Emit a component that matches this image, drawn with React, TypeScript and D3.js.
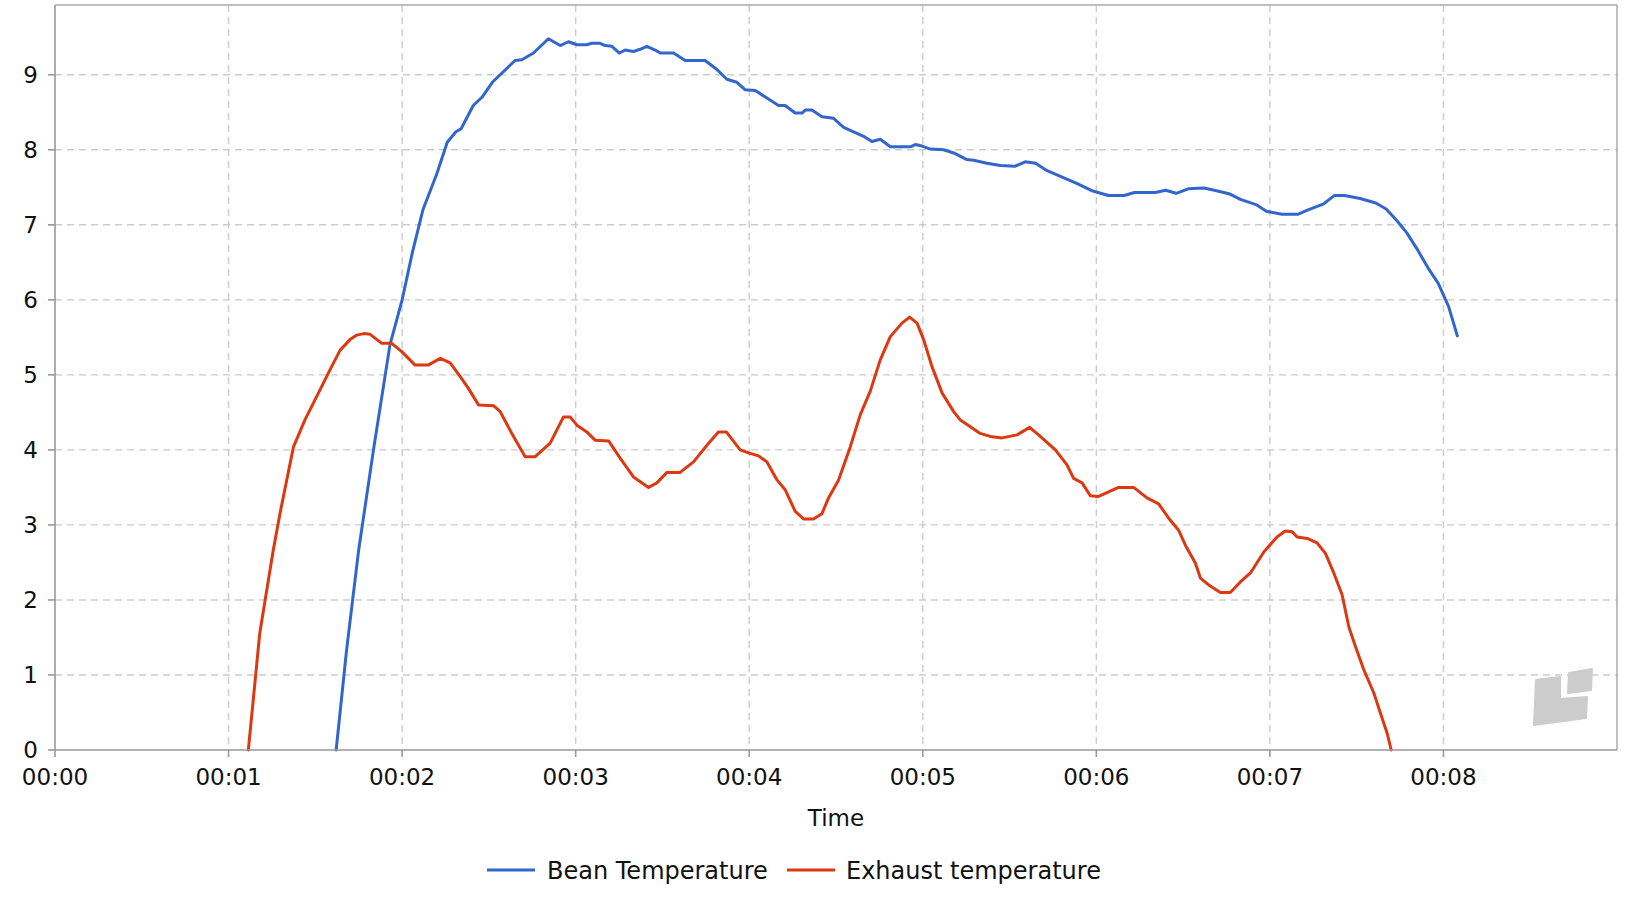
import * as d3 from 'd3';

// time in minutes, value
const beanTemperature: [number, number][] = [
  [1.62, 0], [1.68, 1.33], [1.75, 2.67], [1.835, 4.0], [1.93, 5.4], [2.0, 6.0], [2.06, 6.64],
  [2.12, 7.2], [2.2, 7.68], [2.26, 8.1], [2.31, 8.24], [2.34, 8.28], [2.41, 8.59], [2.46, 8.7],
  [2.52, 8.9], [2.565, 9.0], [2.651, 9.19], [2.69, 9.2], [2.757, 9.29], [2.843, 9.48], [2.911, 9.39],
  [2.958, 9.44], [3.007, 9.4], [3.064, 9.4], [3.093, 9.42], [3.141, 9.42], [3.17, 9.39], [3.209, 9.38],
  [3.252, 9.29], [3.285, 9.33], [3.333, 9.31], [3.372, 9.34], [3.41, 9.38], [3.458, 9.33], [3.487, 9.29],
  [3.564, 9.29], [3.631, 9.19], [3.746, 9.19], [3.814, 9.07], [3.871, 8.94], [3.929, 8.9], [3.977, 8.8],
  [4.035, 8.79], [4.102, 8.69], [4.169, 8.59], [4.207, 8.59], [4.265, 8.49], [4.304, 8.49], [4.323, 8.53],
  [4.361, 8.53], [4.419, 8.44], [4.486, 8.42], [4.544, 8.3], [4.592, 8.25], [4.659, 8.18], [4.707, 8.11],
  [4.755, 8.14], [4.813, 8.04], [4.928, 8.04], [4.957, 8.07], [4.995, 8.05], [5.043, 8.01], [5.12, 8.0],
  [5.187, 7.95], [5.254, 7.87], [5.293, 7.86], [5.37, 7.82], [5.447, 7.79], [5.53, 7.78], [5.59, 7.84],
  [5.65, 7.82], [5.71, 7.73], [5.8, 7.64], [5.89, 7.55], [5.98, 7.45], [6.07, 7.39], [6.16, 7.39],
  [6.22, 7.43], [6.34, 7.43], [6.4, 7.46], [6.46, 7.42], [6.53, 7.48], [6.62, 7.49], [6.68, 7.46],
  [6.77, 7.41], [6.83, 7.34], [6.92, 7.27], [6.98, 7.18], [7.07, 7.14], [7.16, 7.14], [7.22, 7.2],
  [7.31, 7.28], [7.37, 7.39], [7.43, 7.39], [7.52, 7.35], [7.61, 7.29], [7.67, 7.21], [7.73, 7.06],
  [7.79, 6.89], [7.85, 6.67], [7.91, 6.43], [7.97, 6.22], [8.03, 5.91], [8.08, 5.52],
];

const exhaustTemperature: [number, number][] = [
  [1.114, 0], [1.18, 1.56], [1.258, 2.67], [1.297, 3.16], [1.374, 4.04], [1.44, 4.4], [1.527, 4.8],
  [1.585, 5.07], [1.643, 5.33], [1.7, 5.47], [1.739, 5.53], [1.78, 5.55], [1.816, 5.54], [1.883, 5.42],
  [1.94, 5.42], [1.998, 5.31], [2.075, 5.13], [2.15, 5.13], [2.22, 5.22], [2.277, 5.16], [2.334, 4.98],
  [2.382, 4.82], [2.44, 4.6], [2.527, 4.59], [2.565, 4.51], [2.632, 4.22], [2.709, 3.91], [2.767, 3.91],
  [2.853, 4.09], [2.93, 4.44], [2.968, 4.44], [3.007, 4.33], [3.064, 4.24], [3.112, 4.13], [3.19, 4.12],
  [3.256, 3.89], [3.333, 3.64], [3.42, 3.5], [3.468, 3.56], [3.526, 3.7], [3.602, 3.7], [3.679, 3.84],
  [3.766, 4.09], [3.823, 4.24], [3.868, 4.24], [3.948, 4.0], [3.996, 3.96], [4.054, 3.92], [4.102, 3.84],
  [4.16, 3.6], [4.207, 3.47], [4.265, 3.18], [4.313, 3.08], [4.37, 3.08], [4.419, 3.15], [4.457, 3.36],
  [4.515, 3.6], [4.582, 4.04], [4.64, 4.47], [4.697, 4.78], [4.755, 5.2], [4.813, 5.51], [4.88, 5.69],
  [4.924, 5.77], [4.967, 5.69], [5.005, 5.47], [5.053, 5.11], [5.111, 4.76], [5.178, 4.51], [5.216, 4.4],
  [5.274, 4.31], [5.331, 4.22], [5.389, 4.18], [5.456, 4.16], [5.543, 4.2], [5.616, 4.3], [5.677, 4.18],
  [5.764, 4.0], [5.831, 3.8], [5.869, 3.62], [5.918, 3.56], [5.965, 3.39], [6.013, 3.38], [6.061, 3.43],
  [6.128, 3.5], [6.215, 3.5], [6.292, 3.36], [6.359, 3.28], [6.417, 3.09], [6.474, 2.93], [6.513, 2.73],
  [6.571, 2.49], [6.6, 2.29], [6.647, 2.2], [6.715, 2.1], [6.772, 2.1], [6.83, 2.24], [6.888, 2.36],
  [6.965, 2.64], [7.041, 2.84], [7.089, 2.92], [7.128, 2.91], [7.157, 2.84], [7.215, 2.82], [7.272, 2.76],
  [7.32, 2.62], [7.368, 2.36], [7.416, 2.07], [7.455, 1.64], [7.493, 1.38], [7.541, 1.07], [7.599, 0.76],
  [7.637, 0.49], [7.676, 0.22], [7.699, 0],
];

const xTicks = [0, 1, 2, 3, 4, 5, 6, 7, 8];
const xTickLabels = ['00:00', '00:01', '00:02', '00:03', '00:04', '00:05', '00:06', '00:07', '00:08'];
const yTicks = [0, 1, 2, 3, 4, 5, 6, 7, 8, 9];
const seriesNames = ['Bean Temperature', 'Exhaust temperature'];
const seriesColors = ['#3366cc', '#dc3912'];

const FONT = '"DejaVu Sans", sans-serif';

export default function App() {
  const margin = { top: 5, right: 23, bottom: 150, left: 55 };
  const width = 1640;
  const height = 900;
  const innerW = width - margin.left - margin.right;
  const innerH = height - margin.top - margin.bottom;

  const x = d3.scaleLinear().domain([0, 9]).range([0, innerW]);
  const y = d3.scaleLinear().domain([0, 9.93]).range([innerH, 0]);

  const line = d3.line<[number, number]>()
    .x(d => x(d[0]))
    .y(d => y(d[1]));

  const series = [beanTemperature, exhaustTemperature];

  return (
    <svg width={width} height={height} style={{ position: 'absolute', left: 0, top: 0, background: '#fff' }}
      fontFamily={FONT}>
      <g transform={`translate(${margin.left},${margin.top})`}>
        {/* grid */}
        {yTicks.filter(t => t > 0).map(t => (
          <line key={'gy' + t} x1={0} x2={innerW} y1={y(t)} y2={y(t)}
            stroke="#cccccc" strokeWidth={1.4} strokeDasharray="7,5" />
        ))}
        {xTicks.filter(t => t > 0).map(t => (
          <line key={'gx' + t} x1={x(t)} x2={x(t)} y1={0} y2={innerH}
            stroke="#cccccc" strokeWidth={1.4} strokeDasharray="7,5" />
        ))}

        {/* frame */}
        <line x1={0} x2={innerW} y1={0} y2={0} stroke="#aaaaaa" strokeWidth={1.5} />
        <line x1={innerW} x2={innerW} y1={0} y2={innerH} stroke="#aaaaaa" strokeWidth={1.5} />

        {/* watermark */}
        <g transform="translate(-55,-5)" fill="#cccccc" stroke="#cccccc" strokeWidth={2} strokeLinejoin="round">
          <path d="M1536,680 L1560,677 L1560,699 L1587,697 L1586,718 L1534,725 Z" />
          <path d="M1569,673 L1592,669 L1591,690 L1568,693 Z" />
        </g>

        {/* series */}
        {series.map((s, i) => (
          <path key={seriesNames[i]} d={line(s) || ''} fill="none" stroke={seriesColors[i]}
            strokeWidth={3} strokeLinejoin="round" strokeLinecap="round" />
        ))}

        {/* axes */}
        <line x1={0} x2={0} y1={0} y2={innerH} stroke="#999999" strokeWidth={1.6} />
        <line x1={0} x2={innerW} y1={innerH} y2={innerH} stroke="#999999" strokeWidth={1.6} />
        {yTicks.map(t => (
          <g key={'yt' + t}>
            <line x1={-7} x2={0} y1={y(t)} y2={y(t)} stroke="#999999" strokeWidth={1.6} />
            <text x={-17} y={y(t) + 8} textAnchor="end" fontSize={23} fill="#111">{t}</text>
          </g>
        ))}
        {xTicks.map((t, i) => (
          <g key={'xt' + t}>
            <line x1={x(t)} x2={x(t)} y1={innerH} y2={innerH + 7} stroke="#999999" strokeWidth={1.6} />
            <text x={x(t)} y={innerH + 35} textAnchor="middle" fontSize={23} fill="#111">{xTickLabels[i]}</text>
          </g>
        ))}
        <text x={innerW / 2} y={innerH + 76} textAnchor="middle" fontSize={23} fill="#111">Time</text>
      </g>

      {/* legend */}
      <g transform="translate(487,870)">
        <line x1={0} x2={48} y1={0} y2={0} stroke={seriesColors[0]} strokeWidth={3} />
        <text x={60} y={9} fontSize={24} fill="#111">{seriesNames[0]}</text>
        <line x1={300} x2={348} y1={0} y2={0} stroke={seriesColors[1]} strokeWidth={3} />
        <text x={359} y={9} fontSize={24} fill="#111">{seriesNames[1]}</text>
      </g>
    </svg>
  );
}
